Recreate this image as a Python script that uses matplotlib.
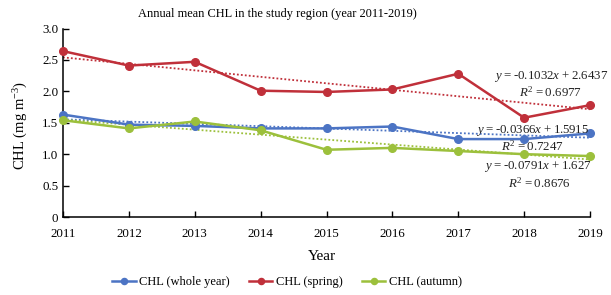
import matplotlib
matplotlib.use("Agg")
import matplotlib.pyplot as plt
from matplotlib.ticker import FixedLocator, FuncFormatter
import numpy as np

plt.rcParams['font.family'] = ['Liberation Serif', 'DejaVu Serif']
plt.rcParams['mathtext.fontset'] = 'custom'
plt.rcParams['mathtext.rm'] = 'Liberation Serif'
plt.rcParams['mathtext.it'] = 'Liberation Serif:italic'

years = [2011, 2012, 2013, 2014, 2015, 2016, 2017, 2018, 2019]
chl_whole = [1.63, 1.47, 1.45, 1.41, 1.41, 1.44, 1.24, 1.24, 1.33]
chl_spring = [2.64, 2.41, 2.47, 2.01, 1.99, 2.03, 2.28, 1.58, 1.78]
chl_autumn = [1.54, 1.41, 1.52, 1.38, 1.07, 1.10, 1.05, 1.00, 0.97]

# trend coefficients (slope, intercept, R2) as printed on the chart
trend_whole = (-0.0366, 1.5915, 0.7247)
trend_spring = (-0.1032, 2.6437, 0.6977)
trend_autumn = (-0.0791, 1.627, 0.8676)

c_blue = '#4c74c4'
c_red = '#c0303a'
c_green = '#9cc03c'

fig = plt.figure(figsize=(6.11, 2.95), dpi=100)
ax = fig.add_axes([63/611, 1-217/295, (590-63)/611, (217-28.5)/295])

series = [
    (chl_whole, trend_whole, c_blue, 'CHL (whole year)'),
    (chl_spring, trend_spring, c_red, 'CHL (spring)'),
    (chl_autumn, trend_autumn, c_green, 'CHL (autumn)'),
]
idx = np.arange(1, len(years) + 1)
for vals, (m, b, r2), col, lab in series:
    ax.plot(years, vals, color=col, lw=1.8, marker='o', ms=5.5, label=lab, zorder=3, clip_on=False)
    ax.plot(years, m * idx + b, color=col, lw=1.3, ls=(0, (1, 1.2)), zorder=2)

ax.set_xlim(2011, 2019)
ax.set_ylim(0, 3)
ax.xaxis.set_major_locator(FixedLocator(years))
ax.yaxis.set_major_locator(FixedLocator([0, 0.5, 1.0, 1.5, 2.0, 2.5, 3.0]))
ax.yaxis.set_major_formatter(FuncFormatter(lambda v, p: '0' if v == 0 else f'{v:.1f}'))
ax.tick_params(direction='in', length=4, width=1, labelsize=9.3, colors='black')
ax.tick_params(axis='x', pad=8)
ax.spines['top'].set_visible(False)
ax.spines['right'].set_visible(False)
for s in ('left', 'bottom'):
    ax.spines[s].set_linewidth(1.1)

TS = '\u2009'

def eq(m, b):
    sign = '-' if m < 0 else ''
    return f'$y${TS}={TS}{sign}{abs(m):g}$x${TS}+{TS}{b:g}'

def r2txt(r):
    return f'$R^2${TS}={TS}{r}'

txt_kw = dict(fontsize=9.3, ha='center', va='center', color='#222222')
ax.text(2018.41, 2.23, eq(*trend_spring[:2]), **txt_kw)
ax.text(2018.40, 1.99, r2txt(trend_spring[2]), **txt_kw)
ax.text(2018.12, 1.38, eq(*trend_whole[:2]), **txt_kw)
ax.text(2018.12, 1.13, r2txt(trend_whole[2]), **txt_kw)
ax.text(2018.21, 0.80, eq(*trend_autumn[:2]), **txt_kw)
ax.text(2018.23, 0.54, r2txt(trend_autumn[2]), **txt_kw)

fig.text(277.5/611, 1-14/295, 'Annual mean CHL in the study region (year 2011-2019)',
         ha='center', va='center', fontsize=8.9)
fig.text(322/611, 1-256/295, 'Year', ha='center', va='center', fontsize=11)
fig.text(21/611, 1-125/295, 'CHL (mg m$^{-3}$)', ha='center', va='center',
         rotation=90, fontsize=10.5)

fig.legend(loc='center', bbox_to_anchor=(287/611, 1-282/295), ncol=3, frameon=False,
           fontsize=9, handlelength=1.9, columnspacing=1.5, handletextpad=0.3,
           markerscale=0.8)

fig.savefig('out.png', dpi=100)
